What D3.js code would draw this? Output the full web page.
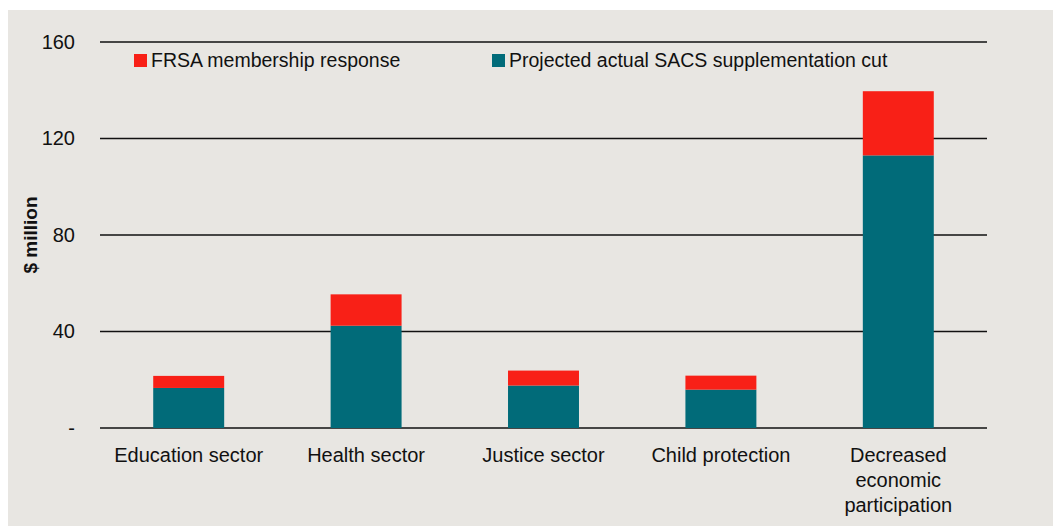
<!DOCTYPE html>
<html>
<head>
<meta charset="utf-8">
<script src="https://cdn.jsdelivr.net/npm/d3@7"></script>
<style>
  body { margin: 0; background: #fff; }
  svg { display: block; font-family: "Liberation Sans", Arial, sans-serif; }
</style>
</head>
<body>
<svg id="chart"></svg>
<script>
const categories = ['Education sector', 'Health sector', 'Justice sector', 'Child protection', 'Decreased economic participation'];
const sacsCut = [16.6, 42.4, 17.6, 15.9, 113.0];
const frsaResponse = [5.0, 13.0, 6.2, 5.8, 26.6];
const yTicks = [0, 40, 80, 120, 160];
const seriesNames = ['FRSA membership response', 'Projected actual SACS supplementation cut'];

const width = 1055;
const height = 526;
const margin = { top: 42, right: 68, bottom: 98, left: 100 };

const red = '#f82017';
const teal = '#016b79';

const svg = d3.select('#chart')
              .attr('width', width)
              .attr('height', height);

svg.append('rect')
   .attr('x', 8)
   .attr('y', 10)
   .attr('width', width - 10)
   .attr('height', height - 10)
   .attr('fill', '#e8e6e2');

const x = d3.scaleBand()
            .domain(categories)
            .range([margin.left, width - margin.right])
            .paddingInner(0.6)
            .paddingOuter(0.3);

const y = d3.scaleLinear()
            .domain([0, 160])
            .range([height - margin.bottom, margin.top]);

// gridlines
svg.append('g')
   .selectAll('line')
   .data(yTicks)
   .enter()
   .append('line')
   .attr('x1', margin.left)
   .attr('x2', width - margin.right)
   .attr('y1', d => y(d))
   .attr('y2', d => y(d))
   .attr('stroke', '#111')
   .attr('stroke-width', 1.3);

// y axis labels
const yAxis = d3.axisLeft(y)
                .tickValues(yTicks)
                .tickFormat(d => d === 0 ? '-' : d)
                .tickSize(0)
                .tickPadding(25);

svg.append('g')
   .attr('transform', `translate(${margin.left}, 0)`)
   .call(yAxis)
   .call(g => g.select('.domain').remove())
   .selectAll('text')
   .attr('font-size', 20)
   .attr('font-family', '"Liberation Sans", Arial, sans-serif')
   .attr('fill', '#111');

svg.append('text')
   .attr('transform', `translate(37, ${y(80)}) rotate(-90)`)
   .attr('text-anchor', 'middle')
   .attr('font-size', 19)
   .attr('font-weight', 'bold')
   .attr('fill', '#111')
   .text('$ million');

// stacked bars
const rows = categories.map((c, i) => ({ cat: c, sacs: sacsCut[i], frsa: frsaResponse[i] }));
const stack = d3.stack().keys(['sacs', 'frsa'])(rows);
const colors = { sacs: teal, frsa: red };

svg.append('g')
   .selectAll('g')
   .data(stack)
   .enter()
   .append('g')
   .attr('fill', d => colors[d.key])
   .selectAll('rect')
   .data(d => d)
   .enter()
   .append('rect')
   .attr('x', d => x(d.data.cat))
   .attr('width', x.bandwidth())
   .attr('y', d => y(d[1]))
   .attr('height', d => y(d[0]) - y(d[1]));

// x labels
const wrapLabels = {
  'Decreased economic participation': ['Decreased', 'economic', 'participation']
};

const xLabels = svg.append('g')
   .selectAll('text')
   .data(categories)
   .enter()
   .append('text')
   .attr('x', d => x(d) + x.bandwidth() / 2)
   .attr('y', y(0) + 34)
   .attr('text-anchor', 'middle')
   .attr('font-size', 20)
   .attr('fill', '#111');

xLabels.each(function(d) {
  const lines = wrapLabels[d] || [d];
  d3.select(this).selectAll('tspan')
    .data(lines)
    .enter()
    .append('tspan')
    .attr('x', x(d) + x.bandwidth() / 2)
    .attr('dy', (l, i) => i === 0 ? 0 : 25)
    .text(l => l);
});

// legend
const legendItems = [
  { name: seriesNames[0], color: red, x: 134 },
  { name: seriesNames[1], color: teal, x: 492 }
];

const legend = svg.append('g')
   .selectAll('g')
   .data(legendItems)
   .enter()
   .append('g')
   .attr('transform', d => `translate(${d.x}, 54)`);

legend.append('rect')
      .attr('width', 13)
      .attr('height', 13)
      .attr('fill', d => d.color);

legend.append('text')
      .attr('x', 17)
      .attr('y', 13)
      .attr('font-size', 19.5)
      .attr('fill', '#111')
      .text(d => d.name);
</script>
</body>
</html>
